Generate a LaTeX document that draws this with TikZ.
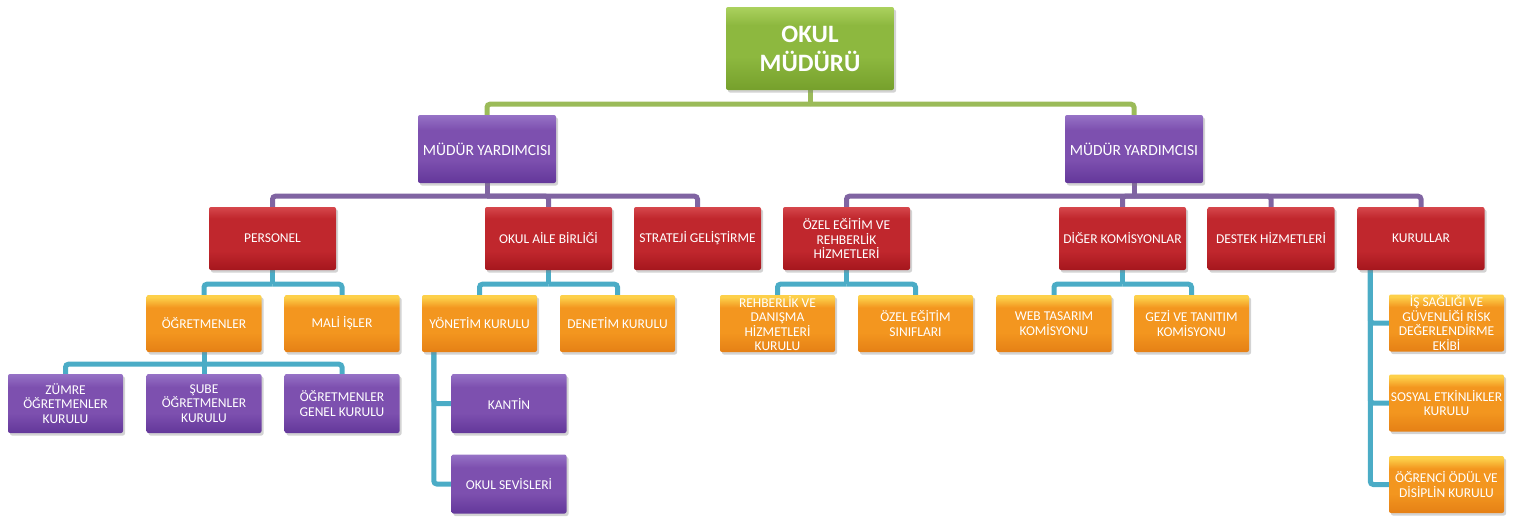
\documentclass[tikz,border=0pt]{standalone}
\usepackage{fontspec}
\setmainfont{Carlito}
\usetikzlibrary{shadows}
\pgfdeclarelayer{background}
\pgfsetlayers{background,main}
\definecolor{gtop}{HTML}{ABD15E}
\definecolor{gmid}{HTML}{8DB83F}
\definecolor{gbot}{HTML}{76A02C}
\definecolor{ptop}{HTML}{9672C6}
\definecolor{pmid}{HTML}{7D50AF}
\definecolor{pbot}{HTML}{63379A}
\definecolor{rtop}{HTML}{D6474C}
\definecolor{rmid}{HTML}{C0272D}
\definecolor{rbot}{HTML}{A5161D}
\definecolor{otop}{HTML}{FDD04A}
\definecolor{omid}{HTML}{F3961F}
\definecolor{obot}{HTML}{E58015}
\definecolor{gline}{HTML}{9BBB59}
\definecolor{pline}{HTML}{8064A2}
\definecolor{cline}{HTML}{4BACC6}
\pgfdeclareverticalshading{grshade}{100bp}{color(0bp)=(gbot); color(25bp)=(gbot); color(45bp)=(gmid); color(64bp)=(gmid); color(75bp)=(gtop); color(100bp)=(gtop)}
\pgfdeclareverticalshading{prshade}{100bp}{color(0bp)=(pbot); color(25bp)=(pbot); color(42bp)=(pmid); color(64bp)=(pmid); color(75bp)=(ptop); color(100bp)=(ptop)}
\pgfdeclareverticalshading{rdshade}{100bp}{color(0bp)=(rbot); color(25bp)=(rbot); color(40bp)=(rmid); color(66bp)=(rmid); color(75bp)=(rtop); color(100bp)=(rtop)}
\pgfdeclareverticalshading{orshade}{100bp}{color(0bp)=(obot); color(25bp)=(obot); color(42bp)=(omid); color(64bp)=(omid); color(73bp)=(otop); color(100bp)=(otop)}
\begin{document}
\begin{tikzpicture}[x=1pt,y=-1pt,
  box/.style={rectangle, rounded corners=2pt, text=white, align=center, inner sep=0pt,
    font=\fontsize{13.5}{14.5}\selectfont,
    drop shadow={opacity=0.35,shadow xshift=2pt,shadow yshift=-2.5pt}},
  rootbox/.style={box, minimum width=168pt, minimum height=83pt, shading=grshade,
    font=\fontsize{25}{29}\selectfont\bfseries},
  mybox/.style={box, minimum width=138pt, minimum height=68pt, shading=prshade,
    font=\fontsize{15.5}{17}\selectfont},
  redbox/.style={box, minimum width=127pt, minimum height=63pt, shading=rdshade},
  orbox/.style={box, minimum width=115pt, minimum height=57pt, shading=orshade},
  pubox/.style={box, minimum width=115pt, minimum height=59pt, shading=prshade},
  gl/.style={draw=gline, line width=5pt, rounded corners=3pt},
  pl/.style={draw=pline, line width=5pt, rounded corners=3pt},
  cl/.style={draw=cline, line width=5pt, rounded corners=3pt}]
\useasboundingbox (0,0) rectangle (1515,520);

\node[rootbox] (root) at (810,48.5) {OKUL\\MÜDÜRÜ};
\node[mybox] (myl) at (487,149) {MÜDÜR YARDIMCISI};
\node[mybox] (myr) at (1134,149) {MÜDÜR YARDIMCISI};

\node[redbox] (personel) at (272.5,238.5) {PERSONEL};
\node[redbox] (oab) at (548.5,238.5) {OKUL AİLE BİRLİĞİ};
\node[redbox] (strat) at (697.5,238.5) {STRATEJİ GELİŞTİRME};
\node[redbox] (ozel) at (846.5,238.5) {ÖZEL EĞİTİM VE\\REHBERLİK\\HİZMETLERİ};
\node[redbox] (diger) at (1122.5,238.5) {DİĞER KOMİSYONLAR};
\node[redbox] (destek) at (1271,238.5) {DESTEK HİZMETLERİ};
\node[redbox] (kurullar) at (1421,238.5) {KURULLAR};

\node[orbox] (ogretmenler) at (204,323.5) {ÖĞRETMENLER};
\node[orbox] (mali) at (342,323.5) {MALİ İŞLER};
\node[orbox] (yonetim) at (479.5,323.5) {YÖNETİM KURULU};
\node[orbox] (denetim) at (617.5,323.5) {DENETİM KURULU};
\node[orbox] (rehber) at (777.5,323.5) {REHBERLİK VE\\DANIŞMA\\HİZMETLERİ\\KURULU};
\node[orbox] (sinif) at (915.5,323.5) {ÖZEL EĞİTİM\\SINIFLARI};
\node[orbox] (web) at (1054,323.5) {WEB TASARIM\\KOMİSYONU};
\node[orbox] (gezi) at (1191.5,323.5) {GEZİ VE TANITIM\\KOMİSYONU};
\node[orbox] (is) at (1446.5,323) {İŞ SAĞLIĞI VE\\GÜVENLİĞİ RİSK\\DEĞERLENDİRME\\EKİBİ};
\node[orbox] (sosyal) at (1446.5,403) {SOSYAL ETKİNLİKLER\\KURULU};
\node[orbox] (ogrenci) at (1446.5,484.5) {ÖĞRENCİ ÖDÜL VE\\DİSİPLİN KURULU};

\node[pubox] (zumre) at (65.5,403.5) {ZÜMRE\\ÖĞRETMENLER\\KURULU};
\node[pubox] (sube) at (204,403.5) {ŞUBE\\ÖĞRETMENLER\\KURULU};
\node[pubox] (genel) at (342,403.5) {ÖĞRETMENLER\\GENEL KURULU};
\node[pubox] (kantin) at (509,403.5) {KANTİN};
\node[pubox] (servis) at (509,484) {OKUL SEVİSLERİ};

\begin{pgfonlayer}{background}
% green level
\draw[gl] (root.south) -- ([yshift=-14pt]root.south);
\foreach \c in {myl,myr}
  \draw[gl] (\c.north) |- ([yshift=-14pt]root.south);
% purple level
\draw[pl] (myl.south) -- ([yshift=-13pt]myl.south);
\foreach \c in {personel,oab,strat}
  \draw[pl] (\c.north) |- ([yshift=-13pt]myl.south);
\draw[pl] (myr.south) -- ([yshift=-13pt]myr.south);
\foreach \c in {ozel,diger,destek,kurullar}
  \draw[pl] (\c.north) |- ([yshift=-13pt]myr.south);
% cyan level
\draw[cl] (personel.south) -- ([yshift=-14pt]personel.south);
\foreach \c in {ogretmenler,mali}
  \draw[cl] (\c.north) |- ([yshift=-14pt]personel.south);
\draw[cl] (oab.south) -- ([yshift=-14pt]oab.south);
\foreach \c in {yonetim,denetim}
  \draw[cl] (\c.north) |- ([yshift=-14pt]oab.south);
\draw[cl] (ozel.south) -- ([yshift=-14pt]ozel.south);
\foreach \c in {rehber,sinif}
  \draw[cl] (\c.north) |- ([yshift=-14pt]ozel.south);
\draw[cl] (diger.south) -- ([yshift=-14pt]diger.south);
\foreach \c in {web,gezi}
  \draw[cl] (\c.north) |- ([yshift=-14pt]diger.south);
\draw[cl] (ogretmenler.south) -- ([yshift=-12pt]ogretmenler.south);
\foreach \c in {zumre,sube,genel}
  \draw[cl] (\c.north) |- ([yshift=-12pt]ogretmenler.south);
% vertical side connectors
\foreach \c in {kantin,servis}
  \draw[cl] ([xshift=12pt]yonetim.south west) |- (\c.west);
\foreach \c in {is,sosyal,ogrenci}
  \draw[cl] ([xshift=13pt]kurullar.south west) |- (\c.west);
\end{pgfonlayer}
\end{tikzpicture}
\end{document}
